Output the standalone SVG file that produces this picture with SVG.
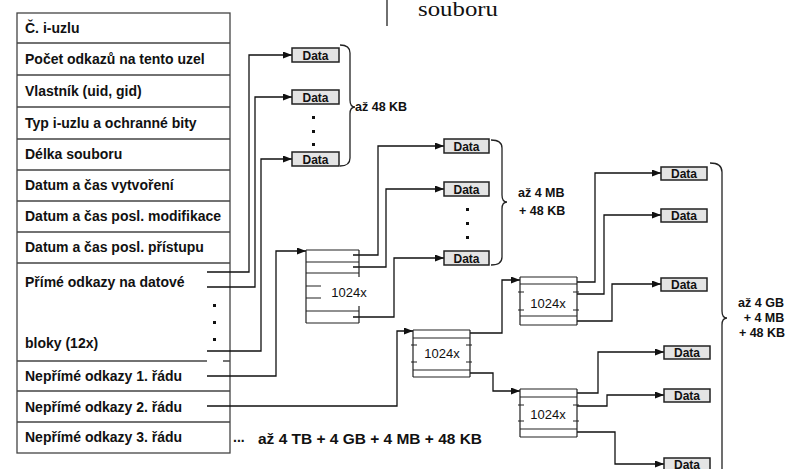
<svg xmlns="http://www.w3.org/2000/svg" width="787" height="469" viewBox="0 0 787 469">
<defs>
<marker id="arr" markerUnits="userSpaceOnUse" markerWidth="9" markerHeight="7" refX="9" refY="3.5" orient="auto">
<path d="M0,0 L9,3.5 L0,7 z" fill="#111"/>
</marker>
<style>
.tbl{fill:#fff;stroke:#444;stroke-width:1.3}
.rl{stroke:#444;stroke-width:1.3;fill:none}
.tt{font-family:"Liberation Sans",Arial,sans-serif;font-weight:bold;font-size:14px;fill:#111}
.c{fill:none;stroke:#111;stroke-width:1.3}
.ca{fill:none;stroke:#111;stroke-width:1.3;marker-end:url(#arr)}
.db{fill:#e4e4e4;stroke:#222;stroke-width:1.5}
.dt{font-family:"Liberation Sans",Arial,sans-serif;font-weight:bold;font-size:12px;fill:#111;text-anchor:middle}
.bl{fill:none;stroke:#222;stroke-width:1.2}
.bt{font-family:"Liberation Sans",Arial,sans-serif;font-size:13px;fill:#111;text-anchor:middle}
.lb{font-family:"Liberation Sans",Arial,sans-serif;font-weight:bold;font-size:12.5px;fill:#111}
.dot{fill:#111}
.br{fill:none;stroke:#222;stroke-width:1.3}
</style>
</defs>

<g id="title-fragment">
<line x1="387" y1="0" x2="387" y2="26" stroke="#222" stroke-width="1.3"/>
<text x="418" y="16" font-family="'Liberation Serif','Times New Roman',serif" font-size="20" fill="#111" textLength="80" lengthAdjust="spacingAndGlyphs">souboru</text>
</g>

<g id="inode-table">
<rect class="tbl" x="17" y="13" width="213" height="440"/>
<path class="rl" d="M17,43H230M17,75H230M17,107H230M17,139H230M17,170H230M17,201H230M17,232H230M17,263H230M17,361H207M223,361H230M17,391H230M17,422H230"/>
<text class="tt" x="25" y="33">Č. i-uzlu</text>
<text class="tt" x="25" y="64">Počet odkazů na tento uzel</text>
<text class="tt" x="25" y="96">Vlastník (uid, gid)</text>
<text class="tt" x="25" y="128">Typ i-uzlu a ochranné bity</text>
<text class="tt" x="25" y="159">Délka souboru</text>
<text class="tt" x="25" y="190">Datum a čas vytvoření</text>
<text class="tt" x="25" y="221">Datum a čas posl. modifikace</text>
<text class="tt" x="25" y="252">Datum a čas posl. přístupu</text>
<text class="tt" x="25" y="287">Přímé odkazy na datové</text>
<text class="tt" x="25" y="348">bloky (12x)</text>
<text class="tt" x="25" y="381">Nepřímé odkazy 1. řádu</text>
<text class="tt" x="25" y="412">Nepřímé odkazy 2. řádu</text>
<text class="tt" x="25" y="442">Nepřímé odkazy 3. řádu</text>
<rect class="dot" x="213" y="304" width="3" height="3"/>
<rect class="dot" x="213" y="321" width="3" height="3"/>
<rect class="dot" x="213" y="338" width="3" height="3"/>
</g>

<g id="connectors">
<path class="ca" d="M207,272H249V55H292"/>
<path class="ca" d="M207,287H255V97H292"/>
<path class="ca" d="M207,351H261V159H292"/>
<path class="ca" d="M207,376H276V251H306"/>
<path class="ca" d="M207,406H397V331H413"/>
<path class="ca" d="M353,255H378V146H444"/>
<path class="ca" d="M353,267H386V189H444"/>
<path class="ca" d="M353,317H394V258H444"/>
<path class="ca" d="M470,333H502V280H520"/>
<path class="ca" d="M470,373H493V391H520"/>
<path class="ca" d="M577,282H595V173H661"/>
<path class="ca" d="M577,294H604V215H661"/>
<path class="ca" d="M577,321H612V284H661"/>
<path class="ca" d="M577,393H598V352H664"/>
<path class="ca" d="M577,406H607V395H664"/>
<path class="ca" d="M577,432H615V464H664"/>
</g>

<g id="data-direct">
<rect class="db" x="292" y="48" width="47" height="14"/><text class="dt" x="315.5" y="59.5">Data</text>
<rect class="db" x="292" y="90" width="47" height="14"/><text class="dt" x="315.5" y="101.5">Data</text>
<rect class="db" x="292" y="152" width="47" height="14"/><text class="dt" x="315.5" y="163.5">Data</text>
<rect class="dot" x="312" y="116" width="3" height="3"/>
<rect class="dot" x="312" y="130" width="3" height="3"/>
<rect class="dot" x="312" y="143" width="3" height="3"/>
<path class="br" d="M340,45Q350,45 350,53V100Q350,107 355,107Q350,107 350,114V158Q350,166 340,166"/>
<text class="lb" x="355" y="111">až 48 KB</text>
</g>

<g id="block-1">
<path class="bl" d="M306,250H359M306,262H359M306,273H359M306,311H359M306,323H359M306,250V323M359,250V277M359,306V323M306,286H321M306,298H321"/>
<text class="bt" x="349" y="297">1024x</text>
</g>

<g id="data-level1">
<rect class="db" x="444" y="139" width="45" height="14"/><text class="dt" x="466.5" y="150.5">Data</text>
<rect class="db" x="444" y="182" width="45" height="14"/><text class="dt" x="466.5" y="193.5">Data</text>
<rect class="db" x="444" y="251" width="45" height="14"/><text class="dt" x="466.5" y="262.5">Data</text>
<rect class="dot" x="466" y="208" width="3" height="3"/>
<rect class="dot" x="466" y="222" width="3" height="3"/>
<rect class="dot" x="466" y="236" width="3" height="3"/>
<path class="br" d="M491,140Q502,140 502,148V195Q502,202 507,202Q502,202 502,209V257Q502,265 491,265"/>
<text class="lb" x="518" y="197">až 4 MB</text>
<text class="lb" x="519" y="215">+ 48 KB</text>
</g>

<g id="block-2">
<path class="bl" d="M413,330H470M413,338H470M413,370H470M413,377H470M413,330V377M470,330V377M411,345H417M411,362H417M466,345H472M466,362H472"/>
<text class="bt" x="442" y="358">1024x</text>
</g>

<g id="block-3">
<path class="bl" d="M520,277H577M520,284H577M520,316H577M520,325H577M520,277V325M577,277V325M518,292H524M518,310H524M573,292H579M573,310H579"/>
<text class="bt" x="548" y="308">1024x</text>
</g>

<g id="block-4">
<path class="bl" d="M520,389H577M520,397H577M520,429H577M520,437H577M520,389V437M577,389V437M518,405H524M518,421H524M573,405H579M573,421H579"/>
<text class="bt" x="548" y="419">1024x</text>
</g>

<g id="data-level2">
<rect class="db" x="661" y="167" width="46" height="13"/><text class="dt" x="684" y="178">Data</text>
<rect class="db" x="661" y="209" width="46" height="13"/><text class="dt" x="684" y="220">Data</text>
<rect class="db" x="661" y="278" width="46" height="13"/><text class="dt" x="684" y="289">Data</text>
<rect class="db" x="664" y="346" width="46" height="13"/><text class="dt" x="687" y="357">Data</text>
<rect class="db" x="664" y="389" width="46" height="13"/><text class="dt" x="687" y="400">Data</text>
<rect class="db" x="664" y="458" width="46" height="13"/><text class="dt" x="687" y="469">Data</text>
<path class="br" d="M710,163Q722,163 722,172V311Q722,318 727,318Q722,318 722,325V475"/>
<text class="lb" x="761" y="307" text-anchor="middle">až 4 GB</text>
<text class="lb" x="764" y="322" text-anchor="middle">+ 4 MB</text>
<text class="lb" x="762" y="337" text-anchor="middle">+ 48 KB</text>
</g>

<g id="total">
<text class="tt" x="233" y="442">...</text>
<text class="tt" x="258" y="444" font-size="15" textLength="224" lengthAdjust="spacingAndGlyphs">až 4 TB + 4 GB + 4 MB + 48 KB</text>
</g>
</svg>
